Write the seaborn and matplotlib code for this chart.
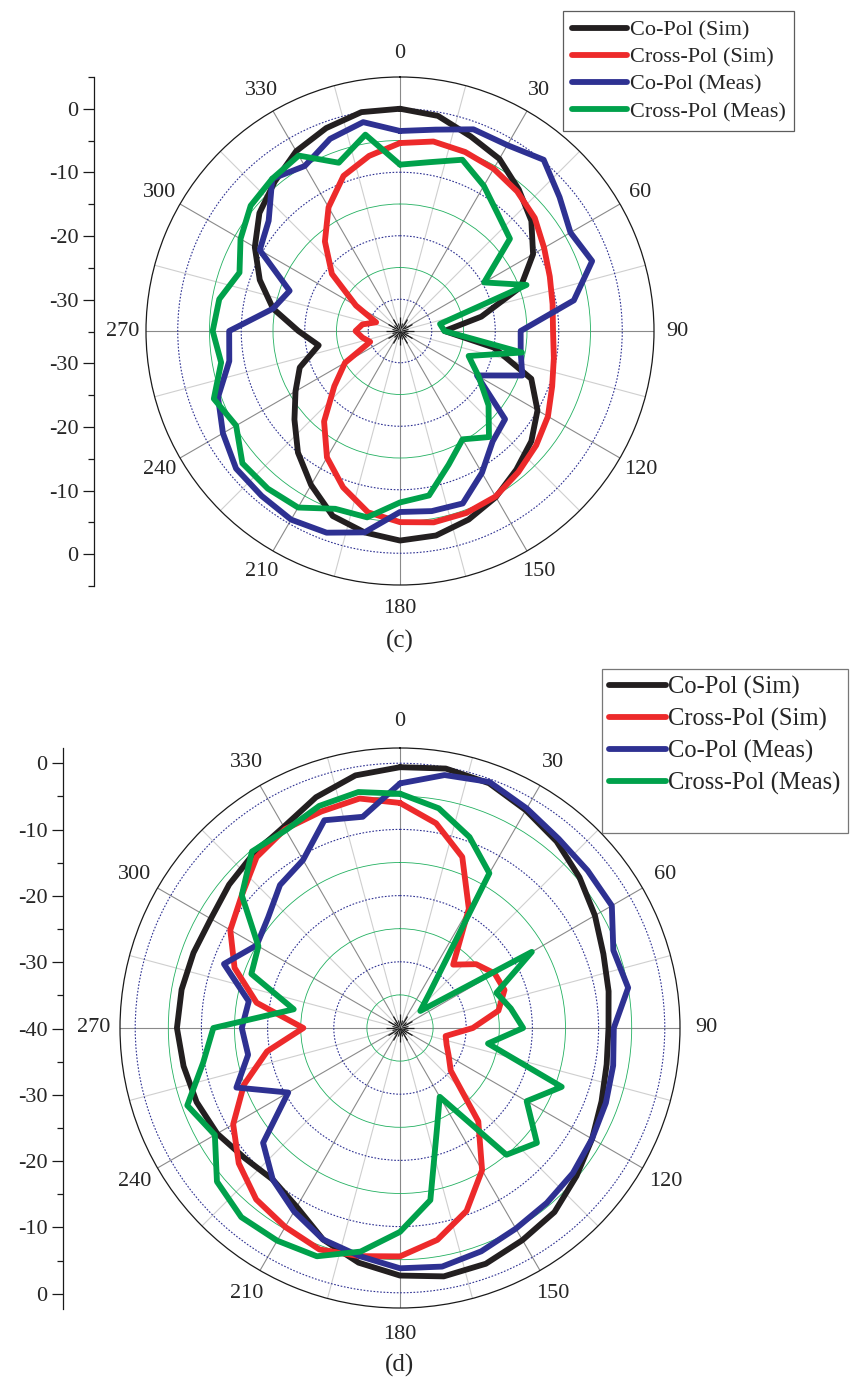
import numpy as np
import pandas as pd
import matplotlib
matplotlib.use("Agg")
import matplotlib.pyplot as plt
import seaborn as sns
from matplotlib.lines import Line2D

angles = list(range(0, 360, 10))
names = ['Co-Pol (Sim)', 'Cross-Pol (Sim)', 'Co-Pol (Meas)', 'Cross-Pol (Meas)']
colors = ['#231f20', '#ed2a2b', '#2e3192', '#00a14b']

# panel (c), dB every 10 deg
c_copol_sim = [0, -0.6, -2.4, -3.7, -5.9, -8, -10.8, -14.8, -22, -28,
               -20, -13, -10, -8, -6.5, -4.8, -3.4, -2.3, -2, -2.8,
               -4, -7, -10, -13.3, -16, -18.2, -22, -19, -14.7, -11.5,
               -8.6, -6.1, -4.3, -2.3, -1, 0]
c_xpol_sim = [-5.4, -4.7, -5, -5.5, -6.3, -7.3, -8.8, -9.9, -10.6, -10.9,
              -10.4, -9.5, -8.1, -7, -6, -4.9, -4.5, -4.4, -4.9, -6,
              -8.8, -12, -16.4, -21.5, -25, -30, -29, -28, -29, -31,
              -27, -21, -16.6, -12.5, -9, -7]
c_copol_meas = [-3.5, -2.8, -1.2, -1.2, 0.2, -2.2, -4, -2.8, -7.2, -16,
                -15.7, -14.5, -21, -13.4, -12.3, -9.2, -6.1, -6.2, -6.5, -2.8,
                -1.2, -0.7, -1.1, -1.3, -2.8, -4.5, -7.7, -8.1, -14.7, -16.5,
                -9.5, -8, -3.7, -5, -2.8, -1.6]
c_xpol_meas = [-8.8, -8, -6.3, -8.6, -11, -12.4, -19.7, -13.8, -28.6, -28,
               -15.5, -23.5, -20.7, -16.8, -13.2, -15.3, -12.6, -8.7, -8, -5.2,
               -5.2, -2.9, -2.6, -2.6, -5.2, -3.8, -6.4, -5.5, -6.1, -8.1,
               -6, -4.3, -3.7, -3.1, -6.8, -3.6]

# panel (d)
d_copol_sim = [-0.6, -0.2, -0.65, -2, -3.2, -4.6, -6, -7.3, -8, -8.5,
               -8.3, -7.6, -6.5, -5.2, -3.7, -3, -2.1, -1.9, -2.6, -4,
               -6, -8.8, -10.1, -9.4, -8.1, -7.3, -6.8, -6.3, -6.5, -6.8,
               -7, -6.3, -5.6, -4.9, -2.9, -1.25]
d_xpol_sim = [-6, -8.6, -12.5, -19.2, -27.5, -25, -23.5, -23.2, -24.9, -29,
              -33, -32.5, -31.5, -30, -21.6, -15.2, -10.6, -7.5, -5.5, -5,
              -4.4, -5.3, -6.2, -8.2, -10.9, -14.9, -19.6, -25.4, -18, -13.4,
              -10.4, -8.8, -6.3, -5.3, -5.2, -4.8]
d_copol_meas = [-3.05, -1.2, -0.45, -1.7, -2.7, -3, -3.05, -5.7, -5, -7.7,
                -7.3, -6.9, -6.5, -5.9, -5.5, -5, -4.1, -3.4, -3.7, -5,
                -6, -8, -10.1, -13, -20.5, -13.7, -16.7, -16.1, -16.8, -11.7,
                -15, -14, -11.8, -10.7, -6.6, -7.6]
d_xpol_meas = [-4.6, -6.3, -9.3, -13, -33, -36, -17, -24.5, -23, -21.4,
               -26.5, -14, -17.9, -13, -15, -28, -23.7, -13.6, -9.2, -5.7,
               -3.3, -2.9, -2.7, -3.9, -7.7, -5.8, -9.8, -11.8, -23.7, -16.1,
               -15.3, -8.8, -5.2, -5.5, -4.3, -3.8]

W, H = 854, 1385
sns.set_theme(style="white")
plt.rcParams['font.family'] = ['Liberation Serif', 'DejaVu Serif']

fig = plt.figure(figsize=(W / 100, H / 100), dpi=100)


def polar_panel(rect, series, rmin, rmax, dotted, solid, pad):
    ax = fig.add_axes(rect, projection='polar')
    ax.set_theta_zero_location('N')
    ax.set_theta_direction(-1)
    ax.set_facecolor('white')
    for vals, col in zip(series, colors):
        df = pd.DataFrame({'theta': np.deg2rad(angles + [360]),
                           'r': vals + [vals[0]]})
        sns.lineplot(data=df, x='theta', y='r', ax=ax, color=col, lw=4.2,
                     sort=False, estimator=None, zorder=5)
    ax.set_xlabel('')
    ax.set_ylabel('')
    ax.set_ylim(rmin, rmax)
    ax.set_xticks(np.deg2rad(range(0, 360, 30)))
    ax.set_xticklabels([str(a) for a in range(0, 360, 30)], fontsize=16)
    ax.set_xticks(np.deg2rad(range(15, 360, 30)), minor=True)
    ax.set_yticks(dotted)
    ax.set_yticks(solid, minor=True)
    ax.set_yticklabels([])
    ax.xaxis.grid(True, which='major', color='#8a8a8a', lw=0.8, ls='-')
    ax.xaxis.grid(True, which='minor', color='#cfcfcf', lw=0.8, ls='-')
    ax.yaxis.grid(True, which='major', color='#2e3192', lw=0.8, ls=(0, (1.5, 1.5)))
    ax.yaxis.grid(True, which='minor', color='#22b060', lw=0.6, ls='-')
    ax.tick_params(axis='x', which='major', direction='in', length=10,
                   width=0.9, color='k', pad=pad, bottom=True)
    ax.tick_params(axis='x', which='minor', direction='in', length=6,
                   width=0.8, color='k', bottom=True)
    ax.tick_params(axis='y', which='both', length=0)
    ax.spines['polar'].set_color('k')
    ax.spines['polar'].set_linewidth(0.9)
    return ax


def scale_axis(x_px, top_px, bot_px, half, major, labels, minor):
    axl = fig.add_axes([x_px / W, 1 - bot_px / H, 0.0005, (bot_px - top_px) / H])
    axl.patch.set_alpha(0)
    for s in ['top', 'right', 'bottom']:
        axl.spines[s].set_visible(False)
    axl.spines['left'].set_color('k')
    axl.spines['left'].set_linewidth(0.9)
    axl.set_xticks([])
    axl.set_ylim(-half, half)
    axl.set_yticks(major)
    axl.set_yticklabels(labels)
    axl.set_yticks(minor, minor=True)
    axl.tick_params(axis='y', which='major', left=True, direction='out',
                    length=8, width=0.9, color='k', labelsize=16, pad=3)
    axl.tick_params(axis='y', which='minor', left=True, direction='out',
                    length=4, width=0.9, color='k')


# (c)
ax_c = polar_panel([146 / W, 1 - 585 / H, 508 / W, 508 / H],
                   [c_copol_sim, c_xpol_sim, c_copol_meas, c_xpol_meas],
                   -35, 5, [-30, -20, -10, 0], [-25, -15, -5], 10)
scale_axis(94, 77, 586, 40,
           [35, 25, 15, 5, -5, -15, -25, -35],
           ['0', '-10', '-20', '-30', '-30', '-20', '-10', '0'],
           [40, 30, 20, 10, 0, -10, -20, -30, -40])
fig.text(400 / W, 1 - 641 / H, '(c)', ha='center', va='center', fontsize=18)

# (d)
ax_d = polar_panel([120 / W, 1 - 1308 / H, 560 / W, 560 / H],
                   [d_copol_sim, d_xpol_sim, d_copol_meas, d_xpol_meas],
                   -40, 2.3, [-30, -20, -10, 0], [-35, -25, -15, -5], 12)
scale_axis(63, 748, 1309, 42.3,
           [40, 30, 20, 10, 0, -10, -20, -30, -40],
           ['0', '-10', '-20', '-30', '-40', '-30', '-20', '-10', '0'],
           [35, 25, 15, 5, -5, -15, -25, -35])
fig.text(400 / W, 1 - 1365 / H, '(d)', ha='center', va='center', fontsize=18)

handles = [Line2D([], [], color=c, lw=4.2, solid_capstyle='round') for c in colors]
leg1 = fig.legend(handles, names, loc='upper left',
                  bbox_to_anchor=(563 / W, 1 - 11 / H), fontsize=16,
                  frameon=True, fancybox=False, edgecolor='#333333',
                  handlelength=2.5, handletextpad=0.1, labelspacing=0.3,
                  borderpad=0.4, borderaxespad=0)
leg1.get_frame().set_linewidth(0.9)

# the (d) legend box has an empty strip below the last entry
blank = Line2D([], [], color='none')
leg2 = fig.legend(handles + [blank], names + [' '], loc='upper left',
                  bbox_to_anchor=(602 / W, 1 - 669 / H), fontsize=17.7,
                  frameon=True, fancybox=False, edgecolor='#555555',
                  handlelength=2.3, handletextpad=0.1, labelspacing=0.35,
                  borderpad=0.3, borderaxespad=0)
leg2.get_frame().set_linewidth(0.9)

fig.savefig('out.png', dpi=100, facecolor='white')
